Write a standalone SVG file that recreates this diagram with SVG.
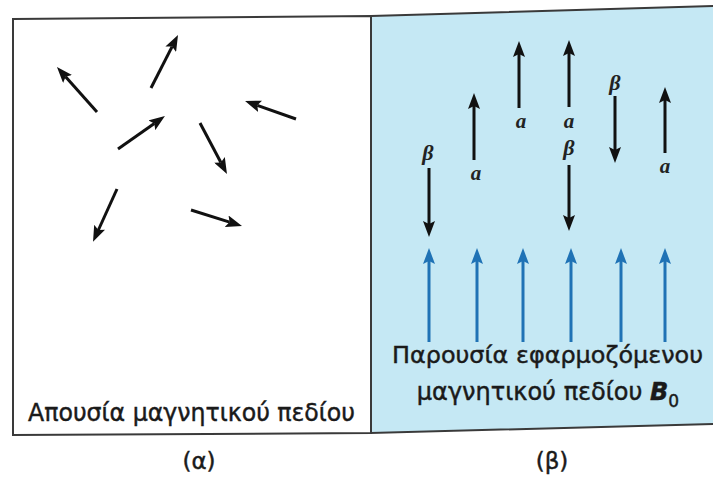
<svg xmlns="http://www.w3.org/2000/svg" width="713" height="479" viewBox="0 0 713 479">
<style>
.frame{stroke:#3a3a3a;stroke-width:2;}
.spin{stroke:#111;stroke-width:3;fill:none;marker-end:url(#headK);}
.field{stroke:#1f72b5;stroke-width:3;fill:none;marker-end:url(#headB);}
.lbl{font-family:"DejaVu Sans","Liberation Sans",sans-serif;fill:#1a1a1a;stroke:#1a1a1a;stroke-width:0.45;}
.sym{font-family:"Liberation Serif","DejaVu Serif",serif;font-style:italic;font-weight:bold;fill:#222;text-anchor:middle;}
</style>
<defs>
<marker id="headK" viewBox="0 0 16 12" refX="3" refY="6" markerWidth="16" markerHeight="12" markerUnits="userSpaceOnUse" orient="auto">
<path d="M0,0 L16,6 L0,12 L3,6 z" fill="#111"/>
</marker>
<marker id="headB" viewBox="0 0 16 12" refX="3" refY="6" markerWidth="16" markerHeight="12" markerUnits="userSpaceOnUse" orient="auto">
<path d="M0,0 L16,6 L0,12 L3,6 z" fill="#1f72b5"/>
</marker>
</defs>
<rect width="713" height="479" fill="#ffffff"/>
<g id="panel-a">
<polygon class="frame" points="13,19 371,16 371,433 13,435" fill="#ffffff"/>
<text class="lbl" x="191.5" y="421" font-size="25" text-anchor="middle" textLength="327" lengthAdjust="spacingAndGlyphs">Απουσία μαγνητικού πεδίου</text>
<text class="lbl" x="199" y="469" font-size="23" text-anchor="middle">(α)</text>
</g>
<g id="panel-b">
<polygon class="frame" points="371,16 716,6 716,424 371,433" fill="#c5e8f4"/>
<text class="lbl" x="547.5" y="363" font-size="23.5" text-anchor="middle" textLength="311" lengthAdjust="spacingAndGlyphs">Παρουσία εφαρμοζόμενου</text>
<text class="lbl" x="548" y="400" font-size="24" text-anchor="middle">μαγνητικού πεδίου <tspan font-style="italic" font-weight="bold">B</tspan><tspan font-size="17" dy="7">0</tspan></text>
<text class="lbl" x="552" y="469" font-size="23" text-anchor="middle">(β)</text>
</g>
<g id="connectors">
<line class="spin" x1="97" y1="112" x2="65.6" y2="76.7"/>
<line class="spin" x1="151" y1="88" x2="172.1" y2="46.6"/>
<line class="spin" x1="118" y1="149" x2="154.3" y2="123.5"/>
<line class="spin" x1="296" y1="119" x2="257.3" y2="105.3"/>
<line class="spin" x1="200" y1="123" x2="220.9" y2="162.5"/>
<line class="spin" x1="117" y1="189" x2="98.4" y2="230"/>
<line class="spin" x1="191" y1="210" x2="229.6" y2="222.1"/>
<line class="spin" x1="429" y1="168" x2="429" y2="224"/>
<line class="spin" x1="474" y1="160" x2="474" y2="106"/>
<line class="spin" x1="519" y1="108" x2="519" y2="54"/>
<line class="spin" x1="569" y1="107" x2="569" y2="53"/>
<line class="spin" x1="569" y1="165" x2="569" y2="218"/>
<line class="spin" x1="615" y1="96" x2="615" y2="150"/>
<line class="spin" x1="665" y1="153" x2="665" y2="100"/>
<line class="field" x1="429" y1="342" x2="429" y2="261"/>
<line class="field" x1="477" y1="342" x2="477" y2="261"/>
<line class="field" x1="523" y1="342" x2="523" y2="261"/>
<line class="field" x1="571" y1="342" x2="571" y2="261"/>
<line class="field" x1="621" y1="342" x2="621" y2="261"/>
<line class="field" x1="665" y1="342" x2="665" y2="261"/>
</g>
<g id="spin-labels">
<text class="sym" x="428" y="160" font-size="22">β</text>
<text class="sym" x="476" y="180" font-size="21">a</text>
<text class="sym" x="521" y="128" font-size="21">a</text>
<text class="sym" x="569" y="128" font-size="21">a</text>
<text class="sym" x="569" y="155" font-size="22">β</text>
<text class="sym" x="615" y="90" font-size="22">β</text>
<text class="sym" x="665" y="173" font-size="21">a</text>
</g>
</svg>
